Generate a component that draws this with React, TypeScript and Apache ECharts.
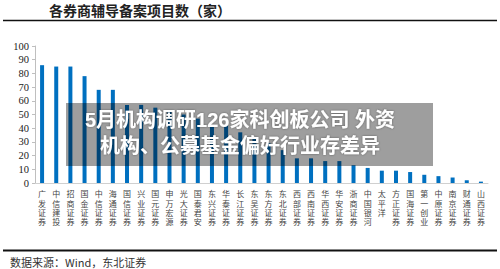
import React, { useEffect, useRef } from "react";
import * as echarts from "echarts";

const categories = [
  "广发证券", "中信建投", "招商证券", "国金证券", "中信证券", "海通证券", "国信证券", "兴业证券",
  "国元证券", "申万宏源", "光大证券", "国泰君安", "东兴证券", "华泰证券", "长江证券", "东吴证券",
  "东方证券", "东北证券", "西部证券", "西南证券", "华西证券", "华安证券", "浙商证券", "中国银河",
  "太平洋", "方正证券", "国海证券", "第一创业", "中原证券", "南京证券", "财通证券", "山西证券",
];
const values = [
  86, 85, 85, 78, 68, 68, 57, 57, 55, 53, 50, 47, 42, 42, 37, 33,
  29, 24, 18, 18, 16, 16, 13, 11, 9, 9, 8, 6, 5, 4, 2, 1,
];
const yTicks = { min: 0, max: 100, interval: 10 };
const titleText = "各券商辅导备案项目数（家）";
const sourceText = "数据来源：Wind，东北证券";
const overlayLines = ["5月机构调研126家科创板公司 外资", "机构、公募基金偏好行业存差异"];

export default function App() {
  const ref = useRef<HTMLDivElement>(null);
  useEffect(() => {
    if (!ref.current) return;
    const chart = echarts.init(ref.current, null, { renderer: "svg" });
    chart.setOption({
      animation: false,
      backgroundColor: "#ffffff",
      grid: { left: 35, right: 12, top: 46, bottom: 86, containLabel: false },
      xAxis: {
        type: "category",
        data: categories,
        axisLine: { lineStyle: { color: "#d0d0d0", width: 1 } },
        axisTick: { show: false },
        axisLabel: {
          interval: 0,
          margin: 7,
          fontSize: 8,
          lineHeight: 9.4,
          color: "#444",
          verticalAlign: "top",
          fontFamily: "'Liberation Serif', 'Noto Sans CJK SC'",
          formatter: (v: string) => v.split("").join("\n"),
        },
      },
      yAxis: {
        type: "value",
        min: yTicks.min,
        max: yTicks.max,
        interval: yTicks.interval,
        splitLine: { show: false },
        axisLine: { show: true, lineStyle: { color: "#bfbfbf" } },
        axisTick: { show: true, length: 3, lineStyle: { color: "#bfbfbf" } },
        axisLabel: {
          fontSize: 10.5,
          color: "#222",
          margin: 6,
          fontFamily: "Liberation Serif",
        },
      },
      series: [
        {
          type: "bar",
          data: values,
          barWidth: 4,
          itemStyle: { color: "#0070C0" },
        },
      ],
      graphic: [
        {
          type: "text",
          z: 10,
          x: 140,
          y: 10,
          style: {
            text: titleText,
            font: "bold 14px 'Noto Sans CJK SC'",
            fill: "#222",
            align: "center",
            verticalAlign: "middle",
          },
        },
        {
          type: "line",
          z: 10,
          shape: { x1: 3, y1: 20.5, x2: 497, y2: 20.5 },
          style: { stroke: "#111", lineWidth: 1.5 },
        },
        {
          type: "line",
          z: 10,
          shape: { x1: 3, y1: 250.5, x2: 497, y2: 250.5 },
          style: { stroke: "#111", lineWidth: 2 },
        },
        {
          type: "text",
          z: 10,
          x: 10,
          y: 262,
          style: {
            text: sourceText,
            font: "11px 'Noto Sans CJK SC'",
            fill: "#333",
            verticalAlign: "middle",
          },
        },
        {
          type: "rect",
          z: 100,
          shape: { x: 66, y: 103, width: 367, height: 63 },
          style: { fill: "rgba(0,0,0,0.38)" },
        },
        {
          type: "text",
          z: 101,
          x: 240,
          y: 120,
          style: {
            text: overlayLines[0],
            font: "bold 20px 'Liberation Sans', 'Noto Sans CJK SC'",
            fill: "#ffffff",
            align: "center",
            verticalAlign: "middle",
            textShadowColor: "rgba(0,0,0,0.4)",
            textShadowBlur: 2,
          },
        },
        {
          type: "text",
          z: 101,
          x: 240,
          y: 146,
          style: {
            text: overlayLines[1],
            font: "bold 20px 'Liberation Sans', 'Noto Sans CJK SC'",
            fill: "#ffffff",
            align: "center",
            verticalAlign: "middle",
            textShadowColor: "rgba(0,0,0,0.4)",
            textShadowBlur: 2,
          },
        },
      ],
    });
    return () => chart.dispose();
  }, []);
  return <div ref={ref} style={{ width: 500, height: 269, position: "fixed", left: 0, top: 0 }} />;
}
